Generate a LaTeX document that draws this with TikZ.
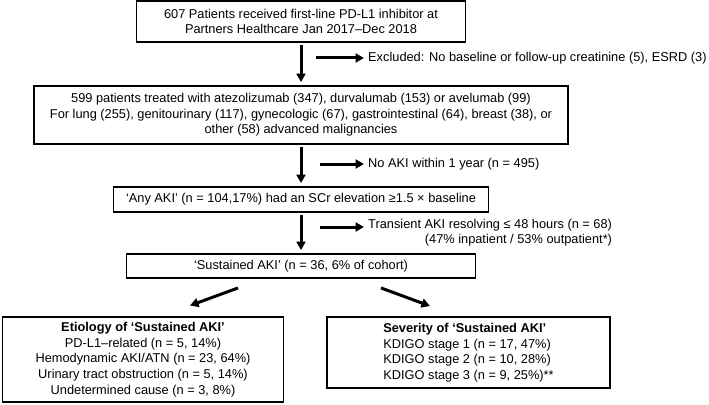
\documentclass[tikz,border=0pt]{standalone}
\usepackage{fontspec}
\setmainfont{Liberation Sans}
\usetikzlibrary{arrows.meta}

\newcommand{\boxfont}{\fontsize{12.8}{15.6}\selectfont}

\tikzset{
  box/.style={draw,line width=1.9pt,align=center,inner sep=2pt,font=\boxfont},
  note/.style={anchor=west,inner sep=1pt,align=left,font=\boxfont},
  arrow/.style={line width=3pt,-{Triangle[length=8.5pt,width=9pt]}},
}

\begin{document}
\begin{tikzpicture}[x=1pt,y=-1pt]
  \useasboundingbox (0,0) rectangle (709,404);

  % main column
  \node[box,minimum width=329pt,minimum height=41pt] (start) at (301,21.5)
    {607 Patients received first-line PD-L1 inhibitor at\\Partners Healthcare Jan 2017--Dec 2018};
  \node[box,minimum width=534pt,minimum height=58pt] (treated) at (301,115)
    {599 patients treated with atezolizumab (347), durvalumab (153) or avelumab (99)\\
     For lung (255), genitourinary (117), gynecologic (67), gastrointestinal (64), breast (38), or\\
     other (58) advanced malignancies};
  \node[box,minimum width=375pt,minimum height=25pt] (anyaki) at (301,199.5)
    {`Any AKI' (n = 104,17\%) had an SCr elevation ≥1.5 × baseline};
  \node[box,minimum width=349pt,minimum height=24pt] (sustained) at (301,266)
    {`Sustained AKI' (n = 36, 6\% of cohort)};

  % outcome boxes
  \node[box,minimum width=281pt,minimum height=85pt] (etiology) at (143,359.5)
    {\textbf{Etiology of `Sustained AKI'}\\PD-L1--related (n = 5, 14\%)\\
     Hemodynamic AKI/ATN (n = 23, 64\%)\\Urinary tract obstruction (n = 5, 14\%)\\
     Undetermined cause (n = 3, 8\%)};
  \node[box,align=left,minimum width=283pt,minimum height=71pt] (severity) at (468.5,352.5)
    {\textbf{Severity of `Sustained AKI'}\\KDIGO stage 1 (n = 17, 47\%)\\
     KDIGO stage 2 (n = 10, 28\%)\\KDIGO stage 3 (n = 9, 25\%)**};

  % side notes
  \node[note] (excluded) at (367,58)
    {Excluded: No baseline or follow-up creatinine (5), ESRD (3)};
  \node[note] (noaki) at (367,164) {No AKI within 1 year (n = 495)};
  \node[note,align=right] (transient) at (367,232.5)
    {Transient AKI resolving ≤ 48 hours (n = 68)\\(47\% inpatient / 53\% outpatient*)};

  \coordinate (x1) at (316,58);
  \coordinate (x2) at (320,164);
  \coordinate (x3) at (320,227);

  % arrows
  \draw[arrow,shorten <=2pt,shorten >=3pt] (start) -- (treated);
  \draw[arrow,shorten <=2pt,shorten >=3pt] (treated) -- (anyaki);
  \draw[arrow,shorten <=2pt,shorten >=3pt] (anyaki) -- (sustained);

  \draw[arrow,shorten >=3pt] (x1) -- (x1 -| excluded.west);
  \draw[arrow,shorten >=3pt] (x2) -- (x2 -| noaki.west);
  \draw[arrow,shorten >=3pt] (x3) -- (x3 -| transient.west);

  \draw[arrow] ([xshift=-63pt,yshift=-9pt]sustained.south) -- ([xshift=47pt,yshift=10.5pt]etiology.north);
  \draw[arrow] ([xshift=80pt,yshift=-9pt]sustained.south) -- ([xshift=-38.5pt,yshift=10pt]severity.north);

\end{tikzpicture}
\end{document}
